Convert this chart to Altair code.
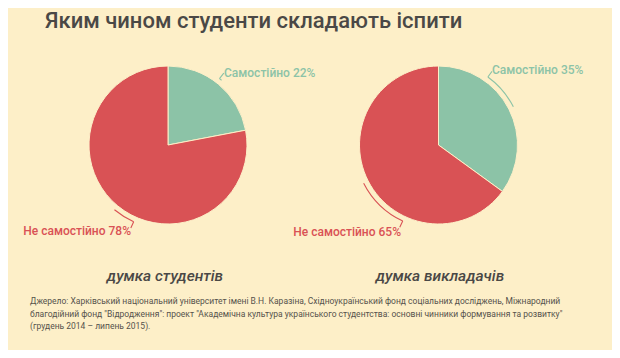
import altair as alt
import pandas as pd

categories = ["Самостійно", "Не самостійно"]
students = [22, 78]
teachers = [35, 65]
title_text = "Яким чином студенти складають іспити"
subtitles = ["думка студентів", "думка викладачів"]
source_lines = [
    "Джерело: Харківський національний університет імені В.Н. Каразіна, Східноукраїнський фонд соціальних досліджень, Міжнародний",
    "благодійний фонд \"Відродження\": проект \"Академічна культура українського студентства: основні чинники формування та розвитку\"",
    "(грудень 2014 – липень 2015).",
]

BG = "#FDEFC8"
GREEN = "#8CC3A7"
RED = "#D95255"
DARK = "#4A4846"
FONT = "Roboto"
R = 79


def pie_frame(vals):
    df = pd.DataFrame({"cat": categories, "value": vals})
    total = df["value"].sum()
    df["end"] = df["value"].cumsum() / total
    df["start"] = df["end"] - df["value"] / total
    df["mid"] = (df["start"] + df["end"]) / 2
    df["label"] = df["cat"] + " " + df["value"].astype(str) + "%"
    return df


s_df = pie_frame(students)
t_df = pie_frame(teachers)

# brace: from slice middle towards the label side (fraction of the circle)
s_df["tip"] = [0.105, 0.567]
t_df["tip"] = [0.10, 0.57]

theta_scale = alt.Scale(domain=[0, 1], range=[0, 6.283185])
cat_scale = alt.Scale(domain=categories, range=[GREEN, RED])


def pie_layers(df, cx, cy, lab_pos):
    base = alt.Chart(df)
    pie = base.mark_arc(stroke=BG, strokeWidth=1).encode(
        theta=alt.Theta("start:Q", scale=theta_scale, stack=False),
        theta2="end:Q",
        color=alt.Color("cat:N", scale=cat_scale, legend=None),
        x=alt.value(cx), y=alt.value(cy),
        radius=alt.value(R),
    )
    brace = base.mark_arc(filled=False, strokeWidth=1.1).encode(
        theta=alt.Theta("mid:Q", scale=theta_scale, stack=False),
        theta2="tip:Q",
        stroke=alt.Color("cat:N", scale=cat_scale, legend=None),
        x=alt.value(cx), y=alt.value(cy),
        radius=alt.value(R + 5), radius2=alt.value(R + 5),
    )
    stem = base.mark_arc(filled=False, strokeWidth=1.1).encode(
        theta=alt.Theta("tip:Q", scale=theta_scale, stack=False),
        theta2="tip:Q",
        stroke=alt.Color("cat:N", scale=cat_scale, legend=None),
        x=alt.value(cx), y=alt.value(cy),
        radius=alt.value(R + 5), radius2=alt.value(R + 12),
    )
    labels = []
    for i, (lx, ly, al) in enumerate(lab_pos):
        labels.append(
            alt.Chart(df.iloc[[i]]).mark_text(
                font=FONT, fontSize=12, fontWeight=500, align=al, baseline="middle",
                color=[GREEN, RED][i],
            ).encode(text="label:N", x=alt.value(lx), y=alt.value(ly))
        )
    return [pie, brace, stem] + labels


layers = []
layers += pie_layers(s_df, 160, 137, [(216, 65, "left"), (123, 223, "right")])
layers += pie_layers(t_df, 430.5, 137, [(484, 62, "left"), (393, 224, "right")])

title = alt.Chart(pd.DataFrame({"t": [title_text]})).mark_text(
    font=FONT, fontSize=22, fontWeight=500, align="left", baseline="alphabetic", color=DARK
).encode(text="t:N", x=alt.value(37), y=alt.value(20))

sub_df = pd.DataFrame({"t": subtitles})
sub1 = alt.Chart(sub_df.iloc[[0]]).mark_text(
    font=FONT, fontSize=15.5, fontStyle="italic", fontWeight=500, align="center", baseline="alphabetic", color=DARK
).encode(text="t:N", x=alt.value(157), y=alt.value(273))
sub2 = alt.Chart(sub_df.iloc[[1]]).mark_text(
    font=FONT, fontSize=15.5, fontStyle="italic", fontWeight=500, align="center", baseline="alphabetic", color=DARK
).encode(text="t:N", x=alt.value(432), y=alt.value(273))

src = alt.Chart(pd.DataFrame({"k": [0]})).mark_text(
    font=FONT, fontSize=8.5, align="left", baseline="top", color="#55524C",
    lineHeight=12.5, text=source_lines,
).encode(x=alt.value(22), y=alt.value(289))

chart = alt.layer(*layers, title, sub1, sub2, src).properties(
    width=604, height=342,
    autosize=alt.AutoSizeParams(type="fit", contains="padding"),
    padding=0,
    background=BG,
).configure_view(stroke=None)

chart.save("out.html", embed_options={"renderer": "svg", "actions": False})
